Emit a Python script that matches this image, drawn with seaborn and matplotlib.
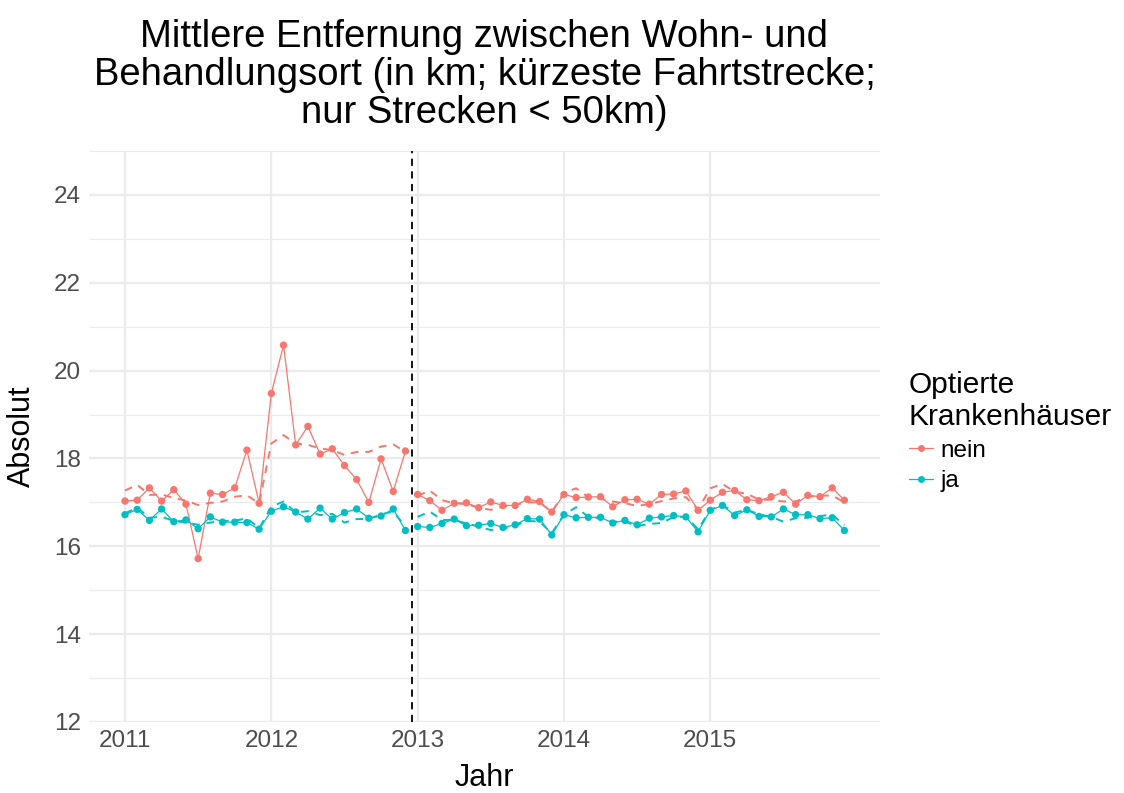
import numpy as np
import pandas as pd
import matplotlib
matplotlib.use("Agg")
import matplotlib.pyplot as plt
from matplotlib.lines import Line2D
import seaborn as sns

# Monatswerte 2011-2015 (beobachtet)
nein_obs = [17.03, 17.05, 17.33, 17.03, 17.29, 16.96, 15.72, 17.21, 17.18, 17.33, 18.19, 16.98,
            19.48, 20.58, 18.31, 18.73, 18.10, 18.22, 17.84, 17.52, 17.00, 17.99, 17.25, 18.17,
            17.18, 17.04, 16.82, 16.98, 16.99, 16.88, 17.01, 16.93, 16.93, 17.07, 17.02, 16.78,
            17.18, 17.11, 17.12, 17.13, 16.90, 17.06, 17.07, 16.96, 17.18, 17.19, 17.26, 16.82,
            17.05, 17.23, 17.27, 17.06, 17.04, 17.13, 17.23, 16.96, 17.16, 17.13, 17.33, 17.05]
ja_obs = [16.72, 16.84, 16.59, 16.85, 16.56, 16.60, 16.40, 16.67, 16.55, 16.55, 16.54, 16.39,
          16.80, 16.90, 16.78, 16.62, 16.87, 16.62, 16.77, 16.85, 16.64, 16.69, 16.85, 16.36,
          16.45, 16.43, 16.52, 16.62, 16.47, 16.48, 16.52, 16.43, 16.49, 16.63, 16.62, 16.26,
          16.72, 16.65, 16.66, 16.66, 16.53, 16.59, 16.49, 16.64, 16.67, 16.70, 16.67, 16.33,
          16.82, 16.93, 16.70, 16.83, 16.68, 16.67, 16.85, 16.72, 16.72, 16.63, 16.65, 16.36]

# Modellwerte (gestrichelt)
nein_fit = [17.27, 17.40, 17.17, 17.18, 17.10, 17.04, 16.94, 16.99, 17.02, 17.13, 17.16, 16.98,
            18.34, 18.53, 18.34, 18.31, 18.23, 18.19, 18.08, 18.15, 18.15, 18.27, 18.32, 18.15,
            17.15, 17.27, 17.05, 16.98, 16.96, 16.88, 16.83, 16.90, 16.95, 17.00, 17.00, 16.78,
            17.22, 17.32, 17.12, 17.08, 17.02, 16.98, 16.92, 16.96, 17.03, 17.09, 17.12, 16.84,
            17.32, 17.42, 17.24, 17.20, 17.06, 17.06, 17.02, 17.02, 17.13, 17.15, 17.16, 17.00]
ja_fit = [16.75, 16.88, 16.65, 16.67, 16.58, 16.54, 16.49, 16.54, 16.58, 16.58, 16.64, 16.41,
          16.90, 17.02, 16.77, 16.80, 16.71, 16.74, 16.54, 16.62, 16.62, 16.73, 16.79, 16.45,
          16.67, 16.79, 16.60, 16.60, 16.52, 16.45, 16.37, 16.40, 16.47, 16.58, 16.56, 16.30,
          16.72, 16.89, 16.67, 16.64, 16.56, 16.56, 16.46, 16.51, 16.53, 16.67, 16.67, 16.39,
          16.83, 16.94, 16.77, 16.83, 16.73, 16.67, 16.56, 16.64, 16.65, 16.69, 16.72, 16.48]

jahre = [2011, 2012, 2013, 2014, 2015]
gruppen = ["nein", "ja"]
farben = {"nein": "#F8766D", "ja": "#00BFC4"}
stichtag = 2013 - 0.04

x = np.array([j + m / 12 for j in jahre for m in range(12)])
periode = np.where(x < stichtag, "vor", "nach")

df = pd.concat([
    pd.DataFrame({"Jahr": x, "obs": nein_obs, "fit": nein_fit, "gruppe": "nein", "periode": periode}),
    pd.DataFrame({"Jahr": x, "obs": ja_obs, "fit": ja_fit, "gruppe": "ja", "periode": periode}),
])

sns.set_style("white")
plt.rcParams["font.family"] = ["Liberation Sans", "DejaVu Sans"]
plt.rcParams["text.color"] = "black"
plt.rcParams["axes.labelcolor"] = "black"

fig = plt.figure(figsize=(11.24, 7.93), dpi=100)
ax = fig.add_axes([89 / 1124, 1 - 722 / 793, (880 - 89) / 1124, (722 - 151) / 793])

# Gitter
for v in np.arange(12, 25.1, 1):
    ax.axhline(v, color="#EBEBEB", lw=1.6 if v % 2 == 0 else 0.8, zorder=0)
for j in jahre:
    ax.axvline(j, color="#EBEBEB", lw=1.6, zorder=0)

sns.lineplot(data=df, x="Jahr", y="fit", hue="gruppe", units="periode", estimator=None,
             palette=farben, hue_order=gruppen, lw=1.4, dashes=False, legend=False, ax=ax,
             linestyle=(0, (4, 3.5)))
sns.lineplot(data=df, x="Jahr", y="obs", hue="gruppe", units="periode", estimator=None,
             palette=farben, hue_order=gruppen, lw=0.9, legend=False, ax=ax)
sns.scatterplot(data=df, x="Jahr", y="obs", hue="gruppe", palette=farben, hue_order=gruppen,
                s=28, linewidth=0, legend=False, ax=ax, zorder=3)

ax.axvline(stichtag, color="black", lw=1.3, linestyle=(0, (4, 3)), zorder=4)

ax.set_xlim(2010.754, 2016.16)
ax.set_ylim(12, 25)
ax.set_xticks(jahre)
ax.set_xticklabels([str(j) for j in jahre])
ax.set_yticks(range(12, 25, 2))
ax.tick_params(axis="both", length=0, labelsize=17.5, labelcolor="#4D4D4D", pad=6)
for s in ax.spines.values():
    s.set_visible(False)
ax.set_xlabel("Jahr", fontsize=22, labelpad=8)
ax.set_ylabel("Absolut", fontsize=22, labelpad=12)
ax.set_title("Mittlere Entfernung zwischen Wohn- und\nBehandlungsort (in km; kürzeste Fahrtstrecke;\nnur Strecken < 50km)",
             fontsize=27.5, linespacing=1.08, pad=20, color="black")

handles = [Line2D([], [], color=farben[g], lw=0.9, marker="o", markersize=5, markeredgewidth=0)
           for g in gruppen]
leg = fig.legend(handles, gruppen, title="Optierte\nKrankenhäuser", loc="upper left",
                 bbox_to_anchor=(904 / 1124, 1 - 366 / 793), frameon=False, fontsize=17.5,
                 title_fontsize=21.5, handlelength=1.0, handletextpad=0.3, labelspacing=0.35,
                 borderaxespad=0, borderpad=0.2)
leg._legend_box.align = "left"
leg._legend_box.sep = 6
leg.get_title().set_linespacing(1.2)

fig.savefig("out.png", dpi=100)
